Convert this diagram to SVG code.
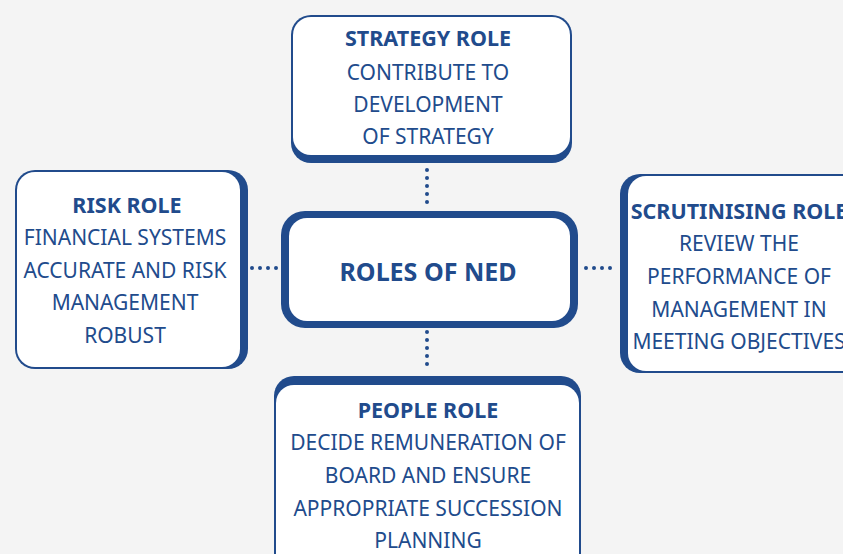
<svg xmlns="http://www.w3.org/2000/svg" width="843" height="554" viewBox="0 0 843 554">
<style>
.bg{fill:#f4f4f4}
.edge{fill:#214b8c}
.card{fill:#ffffff}
.t{font-family:"Noto Sans","Open Sans",sans-serif;fill:#214b8c;text-anchor:middle}
.h{font-size:21.5px;font-weight:700}
.b{font-size:21px;font-weight:400}
.c{font-size:25px;font-weight:700}
.dot{fill:none;stroke:#214b8c;stroke-width:4;stroke-linecap:round;stroke-dasharray:0 8}
</style>
<rect class="bg" x="0" y="0" width="843" height="554"/>
<g id="connectors">
<path class="dot" d="M427 170 V208"/>
<path class="dot" d="M427 332 V372"/>
<path class="dot" d="M252 268 H280"/>
<path class="dot" d="M586 268 H618"/>
</g>
<g id="strategy">
<rect class="edge" x="291" y="15" width="281" height="148" rx="20"/>
<rect class="card" x="293" y="17" width="277" height="138" rx="18"/>
<text class="t h" x="428" y="46">STRATEGY ROLE</text>
<text class="t b" x="428" y="80">CONTRIBUTE TO</text>
<text class="t b" x="428" y="112">DEVELOPMENT</text>
<text class="t b" x="428" y="144">OF STRATEGY</text>
</g>
<g id="risk">
<rect class="edge" x="15" y="170" width="233" height="199" rx="20"/>
<rect class="card" x="17" y="172" width="223" height="195" rx="18"/>
<text class="t h" x="127" y="213">RISK ROLE</text>
<text class="t b" x="125" y="245">FINANCIAL SYSTEMS</text>
<text class="t b" x="125" y="278">ACCURATE AND RISK</text>
<text class="t b" x="125" y="310">MANAGEMENT</text>
<text class="t b" x="125" y="343">ROBUST</text>
</g>
<g id="center">
<rect class="edge" x="281" y="211" width="297" height="117" rx="24"/>
<rect class="card" x="289" y="218" width="281" height="103" rx="18"/>
<text class="t c" x="428" y="281">ROLES OF NED</text>
</g>
<g id="scrutinising">
<rect class="edge" x="620" y="174" width="250" height="199" rx="20"/>
<rect class="card" x="628" y="176" width="240" height="195" rx="18"/>
<text class="t h" x="739" y="219">SCRUTINISING ROLE</text>
<text class="t b" x="739" y="251">REVIEW THE</text>
<text class="t b" x="739" y="284">PERFORMANCE OF</text>
<text class="t b" x="739" y="317">MANAGEMENT IN</text>
<text class="t b" x="739" y="349">MEETING OBJECTIVES</text>
</g>
<g id="people">
<rect class="edge" x="274" y="376" width="307" height="200" rx="20"/>
<rect class="card" x="276" y="385" width="303" height="200" rx="18"/>
<text class="t h" x="428" y="418">PEOPLE ROLE</text>
<text class="t b" x="428" y="450">DECIDE REMUNERATION OF</text>
<text class="t b" x="428" y="483">BOARD AND ENSURE</text>
<text class="t b" x="428" y="516">APPROPRIATE SUCCESSION</text>
<text class="t b" x="428" y="548">PLANNING</text>
</g>
</svg>
